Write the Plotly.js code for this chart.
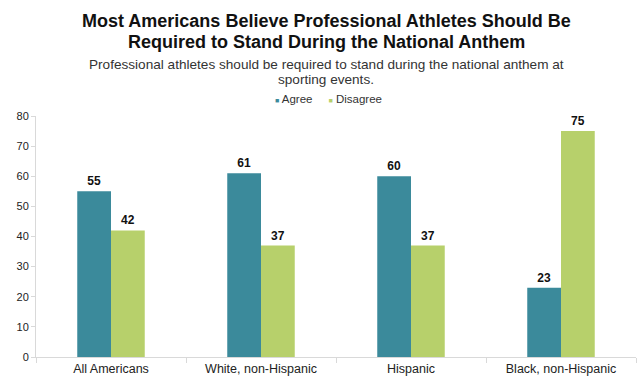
<!DOCTYPE html>
<html><head><meta charset="utf-8">
<script src="https://cdn.plot.ly/plotly-3.0.1.min.js"></script>
<style>body{margin:0;background:#fff}#c{width:640px;height:381px}</style>
</head><body><div id="c"></div>
<script>
const categories = ["All Americans", "White, non-Hispanic", "Hispanic", "Black, non-Hispanic"];
const agree = [55, 61, 60, 23];
const disagree = [42, 37, 37, 75];
const seriesNames = ["Agree", "Disagree"];
const colors = ["#3b8a9b", "#b7d06b"];
const titleLines = ["Most Americans Believe Professional Athletes Should Be",
                    "Required to Stand During the National Anthem"];
const subtitleLines = ["Professional athletes should be required to stand during the national anthem at",
                       "sporting events."];

const FONT = "Liberation Sans, Arial, sans-serif";
const W = 640, H = 381;
const M = {l: 36, r: 4, t: 116, b: 24};
const plotH = H - M.t - M.b, plotW = W - M.l - M.r;
const py = p => (H - M.b - p) / plotH;   // pixel row -> paper y
const px = p => (p - M.l) / plotW;       // pixel col -> paper x

const traces = [agree, disagree].map((vals, i) => ({
  type: "bar", x: categories, y: vals, name: seriesNames[i],
  marker: {color: colors[i]}, showlegend: false,
  text: vals.map(v => "<b>" + v + "</b>"), textposition: "outside",
  textfont: {family: FONT, size: 12, color: "#111"}, cliponaxis: false, hoverinfo: "skip"
}));

const annotations = [];
titleLines.forEach((t, i) => annotations.push({
  text: "<b>" + t + "</b>", xref: "paper", yref: "paper", x: px(326.5), y: py([21, 42][i]),
  xanchor: "center", yanchor: "middle", showarrow: false,
  font: {family: FONT, size: 18, color: "#111"}
}));
subtitleLines.forEach((t, i) => annotations.push({
  text: t, xref: "paper", yref: "paper", x: px(326), y: py([64, 79][i]),
  xanchor: "center", yanchor: "middle", showarrow: false,
  font: {family: FONT, size: 13.6, color: "#333"}
}));
// legend: small coloured squares + series names
const legendText = seriesNames.map((n, i) =>
  '<span style="color:' + colors[i] + ';font-size:7px">■</span> ' + n).join("     ");
annotations.push({
  text: legendText, xref: "paper", yref: "paper", x: px(328), y: py(99),
  xanchor: "center", yanchor: "middle", showarrow: false,
  font: {family: FONT, size: 11.5, color: "#333"}
});

const layout = {
  width: W, height: H, margin: M,
  paper_bgcolor: "#fff", plot_bgcolor: "#fff",
  barmode: "group", bargap: 0.55, bargroupgap: 0,
  font: {family: FONT, color: "#222"},
  showlegend: false,
  annotations: annotations,
  xaxis: {type: "category", showline: true, linecolor: "#d9d9d9", linewidth: 1,
          ticks: "outside", tickson: "boundaries", ticklen: 5, tickcolor: "#d9d9d9",
          tickfont: {family: FONT, size: 12.5, color: "#222"}, showgrid: false, fixedrange: true},
  yaxis: {range: [0, 80], dtick: 10, showline: true, linecolor: "#d9d9d9", linewidth: 1,
          ticks: "outside", ticklen: 4, tickcolor: "#d9d9d9", showgrid: false, zeroline: false,
          tickfont: {family: FONT, size: 11, color: "#222"}, fixedrange: true}
};
Plotly.newPlot("c", traces, layout, {staticPlot: true, displayModeBar: false});
</script></body></html>
